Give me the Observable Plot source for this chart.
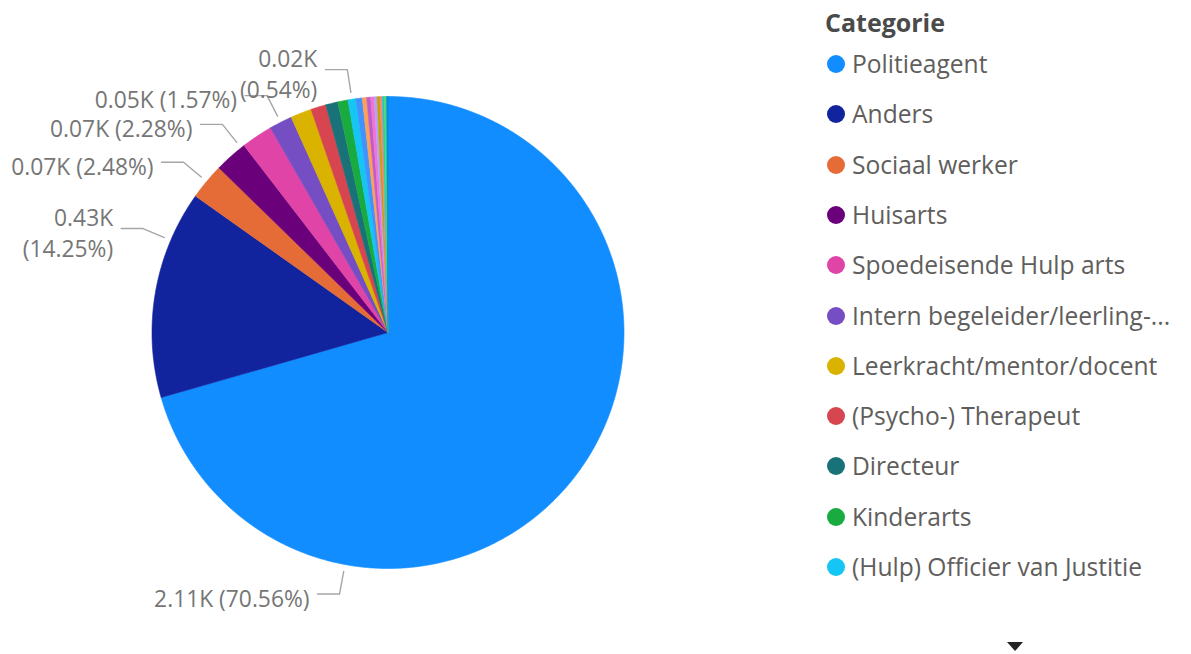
<!DOCTYPE html>
<html>
<head>
<meta charset="utf-8">
<script src="https://cdn.jsdelivr.net/npm/d3@7"></script>
<script src="https://cdn.jsdelivr.net/npm/@observablehq/plot@0.6"></script>
<style>
  body { margin: 0; background: #fff; font-family: "Segoe UI", "Open Sans", sans-serif; }
  #wrap { position: relative; width: 1191px; height: 654px; overflow: hidden; }
  #pie { position: absolute; left: 0; top: 0; }
  #legend { position: absolute; left: 0; top: 0; width: 1191px; height: 654px; pointer-events: none; }
  .ltitle { position: absolute; left: 825px; font-weight: 700; font-size: 25px; color: #4a4a4a; line-height: 30px; }
  .litem { position: absolute; left: 827px; height: 30px; display: flex; align-items: center; white-space: nowrap; }
  .ldot { width: 18px; height: 18px; border-radius: 50%; margin-right: 7px; flex: none; }
  .ltext { font-size: 24.6px; color: #605e5c; line-height: 30px; }
  .arrow { position: absolute; left: 1007px; top: 642px; width: 0; height: 0;
           border-left: 8px solid transparent; border-right: 8px solid transparent; border-top: 9px solid #252423; }
</style>
</head>
<body>
<div id="wrap"><div id="pie"></div><div id="legend"></div></div>
<script>
// ---------------- data ----------------
const categories = [
  "Politieagent", "Anders", "Sociaal werker", "Huisarts", "Spoedeisende Hulp arts",
  "Intern begeleider/leerling-zorgcoördinator", "Leerkracht/mentor/docent", "(Psycho-) Therapeut",
  "Directeur", "Kinderarts", "(Hulp) Officier van Justitie",
  "Jeugdarts", "Verpleegkundige", "Psychiater", "Advocaat", "Jeugdbeschermer",
  "Gezinsvoogd", "Rechter", "Buurtwerker", "Tandarts", "Verloskundige"
];
const values = [2109, 426, 74, 68, 64, 47, 43, 31, 25, 21, 16, 13, 9, 8, 7, 6, 6, 5, 4, 4, 3];
const colors = [
  "#118DFF", "#12239E", "#E66C37", "#6B007B", "#E044A7", "#744EC2", "#D9B300", "#D64550",
  "#197278", "#1AAB40", "#15C6F4", "#4092FF", "#FFA058", "#BE5DC9", "#F472D0", "#B5A1FF",
  "#C4A200", "#FF8080", "#00DBBC", "#5BD667", "#0091D5"
];
const legendTitle = "Categorie";
const legendVisible = 11;
const labeledCategories = ["Politieagent", "Anders", "Sociaal werker", "Huisarts",
  "Intern begeleider/leerling-zorgcoördinator", "(Hulp) Officier van Justitie"];
const wrappedLabels = ["Anders", "(Hulp) Officier van Justitie"];
const labelAngleOverride = { "Politieagent": 190.5, "Anders": 293, "Huisarts": 321.5 }; // degrees, clockwise from top

// ---------------- layout ----------------
const W = 800, H = 654, CX = 387.5, CY = 332, R = 236;
const LEAD_IN = 7, LEAD_OUT = 30, LEAD_H = 22, GAP = 8;

const total = d3.sum(values);
const rows = categories.map((c, i) => ({ category: c, value: values[i] }));
const arcs = d3.pie().sort(null).value(d => d.value)(rows);

// slice outlines in unit-radius coordinates (y up)
const slicePts = [];
for (const a of arcs) {
  const c = a.data.category;
  slicePts.push({ category: c, x: 0, y: 0 });
  const n = Math.max(2, Math.ceil((a.endAngle - a.startAngle) / (Math.PI / 720)));
  for (let k = 0; k <= n; k++) {
    const t = a.startAngle + (a.endAngle - a.startAngle) * k / n;
    slicePts.push({ category: c, x: Math.sin(t), y: Math.cos(t) });
  }
}

// labels + leader lines
const fmt = v => (v / 1000).toFixed(2) + "K";
const pct = v => (100 * v / total).toFixed(2) + "%";
const leaders = [], labels = [];
for (const a of arcs) {
  const c = a.data.category;
  if (!labeledCategories.includes(c)) continue;
  const ang = (c in labelAngleOverride) ? labelAngleOverride[c] * Math.PI / 180 : (a.startAngle + a.endAngle) / 2;
  const s = Math.sin(ang), co = Math.cos(ang);
  const dir = s < 0 ? -1 : 1;
  const r1 = (R + LEAD_IN) / R, r2 = (R + LEAD_OUT) / R;
  const ex = s * r2, ey = co * r2;
  const hx = ex + dir * LEAD_H / R;
  leaders.push({ id: c, x: s * r1, y: co * r1 });
  leaders.push({ id: c, x: ex, y: ey });
  leaders.push({ id: c, x: hx, y: ey });
  const txt = wrappedLabels.includes(c)
    ? fmt(a.data.value) + "\n(" + pct(a.data.value) + ")"
    : fmt(a.data.value) + " (" + pct(a.data.value) + ")";
  labels.push({ id: c, x: hx + dir * GAP / R, y: ey, text: txt, anchor: dir < 0 ? "end" : "start" });
}

const chart = Plot.plot({
  width: W, height: H, margin: 0,
  style: { background: "transparent", fontFamily: "'Segoe UI', 'Open Sans', sans-serif" },
  x: { domain: [-CX / R, (W - CX) / R], axis: null },
  y: { domain: [(CY - H) / R, CY / R], axis: null },
  color: { domain: categories, range: colors },
  marks: [
    Plot.line(slicePts, { x: "x", y: "y", z: "category", fill: "category", stroke: "category",
                          strokeWidth: 0.6, curve: "linear-closed" }),
    Plot.line(leaders, { x: "x", y: "y", z: "id", stroke: "#a6a6a6", strokeWidth: 1.4, curve: "linear" }),
    Plot.text(labels.filter(d => d.anchor === "end"), { x: "x", y: "y", text: "text", textAnchor: "end",
      lineAnchor: "middle", dy: 3, fontSize: 22.8, fill: "#767676", lineHeight: 1.35 }),
    Plot.text(labels.filter(d => d.anchor === "start"), { x: "x", y: "y", text: "text", textAnchor: "start",
      lineAnchor: "middle", dy: 3, fontSize: 22.8, fill: "#767676", lineHeight: 1.35 })
  ]
});
document.getElementById("pie").appendChild(chart);

// ---------------- legend ----------------
const legend = document.getElementById("legend");
const t = document.createElement("div");
t.className = "ltitle"; t.textContent = legendTitle; t.style.top = (22 - 15) + "px";
legend.appendChild(t);
const shortName = s => s.length > 30 ? s.slice(0, 27) + "..." : s;
for (let i = 0; i < legendVisible; i++) {
  const item = document.createElement("div");
  item.className = "litem";
  item.style.top = (64 + 50.3 * i - 15) + "px";
  const dot = document.createElement("div");
  dot.className = "ldot"; dot.style.background = colors[i];
  const tx = document.createElement("span");
  tx.className = "ltext"; tx.textContent = shortName(categories[i]);
  item.appendChild(dot); item.appendChild(tx);
  legend.appendChild(item);
}
const arrow = document.createElement("div");
arrow.className = "arrow";
legend.appendChild(arrow);
</script>
</body>
</html>
